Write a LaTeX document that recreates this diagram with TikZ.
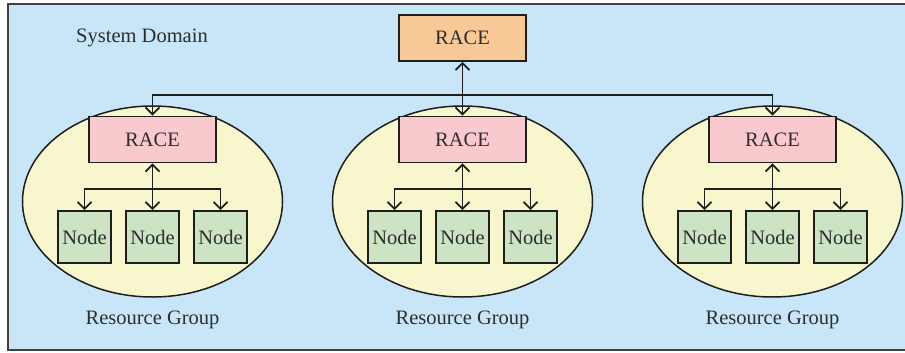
\documentclass[tikz,border=0pt]{standalone}
\usepackage{fontspec}
\setmainfont{Liberation Serif}
\usetikzlibrary{arrows.meta}
\definecolor{domainbg}{RGB}{201,230,248}
\definecolor{topfill}{RGB}{247,201,150}
\definecolor{racefill}{RGB}{248,202,205}
\definecolor{groupfill}{RGB}{248,246,204}
\definecolor{nodefill}{RGB}{204,228,196}
\definecolor{ink}{RGB}{30,30,30}
\definecolor{txt}{RGB}{45,45,45}
\tikzset{
  box/.style={draw=ink, line width=1.8pt, inner sep=0pt, text=txt,
    font=\fontsize{20.5}{24}\selectfont},
  topbox/.style={box, fill=topfill, minimum width=127pt, minimum height=46pt},
  racebox/.style={box, fill=racefill, minimum width=127pt, minimum height=46pt},
  workbox/.style={box, fill=nodefill, minimum width=53pt, minimum height=52pt},
  group/.style={draw=ink, line width=1.5pt, fill=groupfill},
  caption/.style={text=txt, font=\fontsize{20.5}{24}\selectfont},
  link/.style={draw=ink, line width=1.8pt},
  barb/.tip={Straight Barb[length=7pt,width=14pt,line width=1.8pt]},
  tip/.style={-barb},
  tips/.style={barb-barb},
}
\begin{document}
\begin{tikzpicture}[x=1pt,y=-1pt]
\useasboundingbox (0,0) rectangle (905,353);
% system domain frame (runs on past the right edge)
\fill[domainbg] (8,4) rectangle (910,350);
\draw[ink!85, line width=1.8pt] (910,4) -- (8,4) -- (8,350) -- (910,350);
\node[caption] (sys) at (142,38) {System Domain};

% resource groups
\foreach \g/\cx in {l/152.5, m/462.5, r/772.5} {
  \draw[group] (\cx,201.5) ellipse [x radius=130, y radius=95.5];
  \node[racebox] (race\g) at (\cx,139.5) {RACE};
  \node[workbox] (\g a) at (\cx-68,237) {Node};
  \node[workbox] (\g b) at (\cx,237) {Node};
  \node[workbox] (\g c) at (\cx+68,237) {Node};
  \node[caption] (res\g) at (\cx,320) {Resource Group};
  \coordinate (\g j) at (\cx,189);
  \draw[link, tips] (race\g.south) -- (\g b.north);
  \draw[link, tip] (\g j) -| (\g a.north);
  \draw[link, tip] (\g j) -| (\g c.north);
}

% top-level RACE
\node[topbox] (top) at (462.5,38) {RACE};
\coordinate (bus) at (462.5,95);
\draw[link, tips] (top.south) -- (racem.north);
\draw[link, tip] (bus) -| (racel.north);
\draw[link, tip] (bus) -| (racer.north);
\end{tikzpicture}
\end{document}
